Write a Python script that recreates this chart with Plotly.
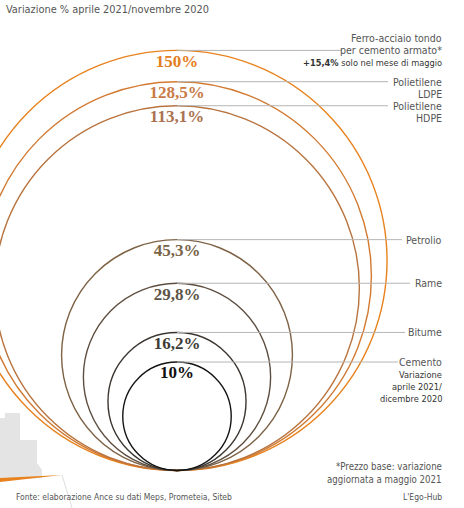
import plotly.graph_objects as go

# ---- data ----
materials = ["Ferro-acciaio tondo per cemento armato*", "Polietilene LDPE", "Polietilene HDPE",
             "Petrolio", "Rame", "Bitume", "Cemento"]
values = [150, 128.5, 113.1, 45.3, 29.8, 16.2, 10]
value_labels = ["150%", "128,5%", "113,1%", "45,3%", "29,8%", "16,2%", "10%"]
label_lines = [
    ["Ferro-acciaio tondo", "per cemento armato*", "<b>+15,4%</b> solo nel mese di maggio"],
    ["Polietilene", "LDPE"],
    ["Polietilene", "HDPE"],
    ["Petrolio"],
    ["Rame"],
    ["Bitume"],
    ["Cemento", "Variazione", "aprile 2021/", "dicembre 2020"],
]
anchor_line = [1, 0, 0, 0, 0, 0, 0]
leader_end = [342, 388, 388, 402, 410, 405, 398]

# ---- styles ----
circle_colors = ["#e8821e", "#d27a32", "#b8733e", "#7d6245", "#5e4e40", "#3c3631", "#141414"]
text_colors = ["#e37d22", "#c97a45", "#aa7250", "#7a6448", "#5e5448", "#403c36", "#111111"]
SANS = "Liberation Sans Narrow, DejaVu Sans Condensed, Arial Narrow, sans-serif"
SERIF = "Liberation Serif, Times New Roman, serif"
GREY = "#555555"

W, H = 464, 508
cx, bottom = 177, 470.5
k = 34.3  # px per sqrt(%) : circle area proportional to value

fig = go.Figure()
shapes = []
annotations = []

# decorative background silhouette (bottom-left)
shapes.append(dict(type="path", xref="x", yref="y", layer="below",
                   path="M 0 418 L 5 418 L 5 413 L 20 413 L 20 440 L 37 440 L 37 463 L 42 470 L 42 478 L 0 480 Z",
                   fillcolor="#e4e4e4", line=dict(width=0)))
shapes.append(dict(type="path", xref="x", yref="y", layer="below",
                   path="M 0 478 L 62 475 L 0 482 Z", fillcolor="#e8821e", line=dict(width=0)))
shapes.append(dict(type="line", xref="x", yref="y", layer="below", x0=62, y0=475, x1=72, y1=508,
                   line=dict(color="#dddddd", width=1)))

tops = []
for v, col in zip(values, circle_colors):
    d = k * v ** 0.5
    r = d / 2
    top = bottom - d
    tops.append(top)
    shapes.append(dict(type="circle", xref="x", yref="y", x0=cx - r, x1=cx + r, y0=top, y1=bottom,
                       line=dict(color=col, width=1.4)))

# leader lines
for top, xe in zip(tops, leader_end):
    shapes.append(dict(type="line", xref="x", yref="y", x0=cx, x1=xe, y0=top, y1=top,
                       line=dict(color="#b5b5b5", width=1)))

# percentage labels
fig.add_trace(go.Scatter(x=[cx] * len(values), y=[t + 12 for t in tops], mode="text",
                         text=[f"<b>{s}</b>" for s in value_labels],
                         textfont=dict(family=SERIF, size=17, color=text_colors),
                         hoverinfo="skip", showlegend=False))

# right-side labels
LS = 12
for top, lines, a in zip(tops, label_lines, anchor_line):
    for i, ln in enumerate(lines):
        small = (a == 1 and i == 2) or (len(lines) > 2 and a == 0 and i > 0)
        annotations.append(dict(x=444, y=top + (i - a) * LS, xref="x", yref="y", text=ln,
                                showarrow=False, xanchor="right", yanchor="middle",
                                font=dict(family=SANS, size=9.2 if small else 10.5,
                                          color="#333333" if small else GREY)))

# title and footnotes
annotations.append(dict(x=4, y=9, xref="x", yref="y", text="Variazione % aprile 2021/novembre 2020",
                        showarrow=False, xanchor="left", yanchor="middle",
                        font=dict(family=SANS, size=10.9, color=GREY)))
annotations.append(dict(x=444, y=466, xref="x", yref="y", text="*Prezzo base: variazione",
                        showarrow=False, xanchor="right", yanchor="middle",
                        font=dict(family=SANS, size=9.6, color=GREY)))
annotations.append(dict(x=444, y=479, xref="x", yref="y", text="aggiornata a maggio 2021",
                        showarrow=False, xanchor="right", yanchor="middle",
                        font=dict(family=SANS, size=9.6, color=GREY)))
annotations.append(dict(x=14, y=497, xref="x", yref="y",
                        text="Fonte: elaborazione Ance su dati Meps, Prometeia, Siteb",
                        showarrow=False, xanchor="left", yanchor="middle",
                        font=dict(family=SANS, size=8.5, color=GREY)))
annotations.append(dict(x=444, y=497, xref="x", yref="y", text="L'Ego-Hub",
                        showarrow=False, xanchor="right", yanchor="middle",
                        font=dict(family=SANS, size=8.5, color=GREY)))

fig.update_layout(
    width=W, height=H, margin=dict(l=0, r=0, t=0, b=0),
    paper_bgcolor="white", plot_bgcolor="white",
    xaxis=dict(range=[0, W], visible=False, fixedrange=True),
    yaxis=dict(range=[H, 0], visible=False, fixedrange=True),
    shapes=shapes, annotations=annotations, showlegend=False,
)
fig.write_html("out.html", config={"displayModeBar": False},
               post_script="document.body.style.margin='0';document.body.style.overflow='hidden';")
